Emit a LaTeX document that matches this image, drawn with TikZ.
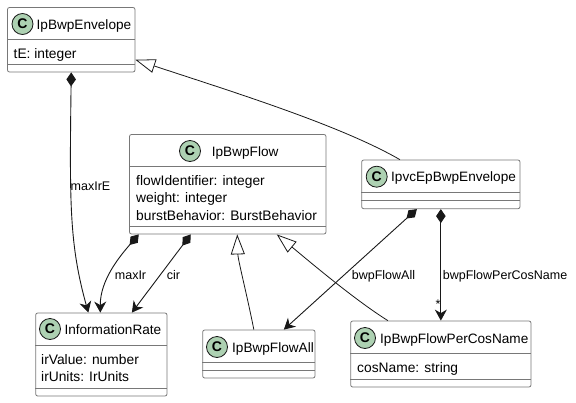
\documentclass[tikz,border=0pt]{standalone}
\usepackage{fontspec}
\setmainfont{Liberation Sans}
\usetikzlibrary{arrows.meta, positioning}
\definecolor{boxgray}{RGB}{120, 120, 120}
\definecolor{linedark}{RGB}{24, 24, 24}
\definecolor{spotgreen}{RGB}{173, 209, 178}

\begin{document}
\begin{tikzpicture}[
    x=1pt, y=-1pt,
    classbox/.style={rectangle, rounded corners=2pt, draw=boxgray, line width=0.8pt, fill=white, inner sep=0pt},
    spot/.style={circle, draw=linedark, line width=0.8pt, fill=spotgreen, minimum size=21pt, inner sep=0pt, font=\fontsize{14}{14}\selectfont\bfseries},
    title/.style={anchor=base west, inner sep=0pt, font=\fontsize{13.6}{14}\selectfont},
    field/.style={anchor=base west, inner sep=0pt, font=\fontsize{13.8}{14}\selectfont},
    label/.style={anchor=base west, inner sep=0pt, font=\fontsize{12.5}{14}\selectfont},
    sep/.style={draw=boxgray, line width=0.8pt},
    comp/.style={line width=0.9pt, draw=linedark, {Diamond[length=14pt, width=9.5pt]}-{Stealth[length=11pt, width=12pt, inset=3.5pt]}},
    inherit/.style={line width=0.8pt, draw=linedark, -{Triangle[open, length=20pt, width=14pt, fill=white]}}
]
\useasboundingbox (0,0) rectangle (576,402);

% Class boxes
\node (env) [classbox, minimum width=127.5pt, minimum height=64.5pt] at (71.25,39.75) {};
\node (flow) [classbox, minimum width=196.5pt, minimum height=99.5pt] at (227.75,184.25) {};
\node (ipvc) [classbox, minimum width=158.3pt, minimum height=48.7pt] at (440.85,184.35) {};
\node (rate) [classbox, minimum width=131.3pt, minimum height=83pt] at (101.35,354.5) {};
\node (all) [classbox, minimum width=112.3pt, minimum height=48pt] at (258.85,354) {};
\node (percos) [classbox, minimum width=180.3pt, minimum height=66pt] at (440.85,354) {};

% Separators
\draw [sep] (env.west |- 0,39) -- (env.east |- 0,39);
\draw [sep] (env.west |- 0,64.5) -- (env.east |- 0,64.5);
\draw [sep] (flow.west |- 0,166.5) -- (flow.east |- 0,166.5);
\draw [sep] (flow.west |- 0,226) -- (flow.east |- 0,226);
\draw [sep] (ipvc.west |- 0,192) -- (ipvc.east |- 0,192);
\draw [sep] (ipvc.west |- 0,200) -- (ipvc.east |- 0,200);
\draw [sep] (rate.west |- 0,345) -- (rate.east |- 0,345);
\draw [sep] (rate.west |- 0,388) -- (rate.east |- 0,388);
\draw [sep] (all.west |- 0,362) -- (all.east |- 0,362);
\draw [sep] (all.west |- 0,370) -- (all.east |- 0,370);
\draw [sep] (percos.west |- 0,353) -- (percos.east |- 0,353);
\draw [sep] (percos.west |- 0,379) -- (percos.east |- 0,379);

% Spots and titles
\node (envSpot) [spot] at (22.5,24) {C};
\node (envTitle) [title] at (36.5,29.3) {IpBwpEnvelope};
\node (flowSpot) [spot] at (190,151) {C};
\node (flowTitle) [title] at (211.7,156) {IpBwpFlow};
\node (ipvcSpot) [spot] at (376.7,176.7) {C};
\node (ipvcTitle) [title] at (391,181.7) {IpvcEpBwpEnvelope};
\node (rateSpot) [spot] at (50,329) {C};
\node (rateTitle) [title] at (64.3,334.7) {InformationRate};
\node (allSpot) [spot] at (217,347) {C};
\node (allTitle) [title] at (232,352) {IpBwpFlowAll};
\node (percosSpot) [spot] at (365,338) {C};
\node (percosTitle) [title] at (380,343.3) {IpBwpFlowPerCosName};

% Fields
\node (envF1) [field] at (13.5,58) {tE: integer};
\node (flowF1) [field] at (136,185) {flowIdentifier: integer};
\node (flowF2) [field] at (136,202.3) {weight: integer};
\node (flowF3) [field] at (136,220) {burstBehavior: BurstBehavior};
\node (rateF1) [field] at (41,364.3) {irValue: number};
\node (rateF2) [field] at (41,381.3) {irUnits: IrUnits};
\node (percosF1) [field] at (357,372.3) {cosName: string};

% Compositions
\draw [comp] (env.south) .. controls (69.5,205) and (69.5,245) .. ([xshift=-13pt]rate.north);
\draw [comp] ([xshift=-89pt]flow.south) .. controls (120,256) and (100,280) .. ([xshift=-1pt]rate.north);
\draw [comp] ([xshift=-37pt]flow.south) -- ([xshift=30.5pt]rate.north);
\draw [comp] ([xshift=-24pt]ipvc.south) -- ([xshift=25pt]all.north);
\draw [comp] (ipvc.south) -- (percos.north);

% Inheritance
\draw [inherit] ([xshift=-41pt]ipvc.north) .. controls (340,125) and (230,91) .. ([yshift=-20pt]env.east);
\draw [inherit] ([xshift=-5pt]all.north) .. controls (247,295) and (238,260) .. ([xshift=9.5pt]flow.south);
\draw [inherit] ([xshift=-53pt]percos.north) .. controls (355,300) and (310,262) .. ([xshift=49pt]flow.south);

% Connector labels
\node (lblMaxIrE) [label] at (70.5,190.5) {maxIrE};
\node (lblMaxIr) [label] at (114.7,279) {maxIr};
\node (lblCir) [label] at (166.7,279) {cir};
\node (lblAll) [label] at (351.7,279) {bwpFlowAll};
\node (lblPerCos) [label] at (442.7,279) {bwpFlowPerCosName};
\node (lblStar) [label] at (435.5,308.5) {*};

\end{tikzpicture}
\end{document}
